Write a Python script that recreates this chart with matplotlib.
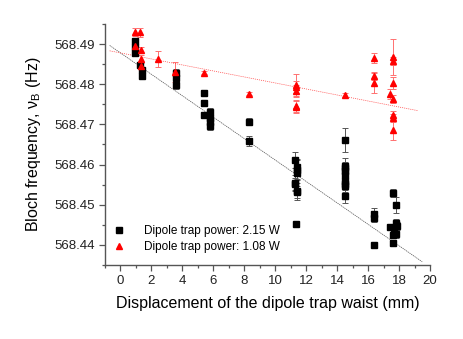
import matplotlib
matplotlib.use("Agg")
import matplotlib.pyplot as plt
from matplotlib.ticker import MultipleLocator, FormatStrFormatter
import numpy as np

plt.rcParams["font.family"] = ["Liberation Sans", "DejaVu Sans"]

# 2.15 W series (black squares)
x_hi = [0.95, 0.95, 0.95, 1.25, 1.4, 1.4, 3.6, 3.6, 3.6, 5.4, 5.4, 5.4,
        5.8, 5.8, 5.8, 5.8, 8.3, 8.3,
        11.3, 11.4, 11.4, 11.4, 11.3, 11.3, 11.4, 11.4, 11.35,
        14.5, 14.5, 14.5, 14.5, 14.5, 14.5, 14.5, 14.5, 14.5,
        16.4, 16.4, 16.4,
        17.6, 17.8, 17.4, 17.8, 17.85, 17.7, 17.6, 17.8, 17.6]
y_hi = [568.4908, 568.4893, 568.4879, 568.4848, 568.4835, 568.4821,
        568.4827, 568.4815, 568.4797, 568.4779, 568.4754, 568.4724,
        568.4732, 568.4716, 568.4706, 568.4695, 568.4707, 568.4659,
        568.4612, 568.4593, 568.4587, 568.4579, 568.4554, 568.4552,
        568.4533, 568.4532, 568.4453,
        568.4662, 568.4597, 568.4592, 568.4585, 568.4573, 568.4558,
        568.4552, 568.4546, 568.4523,
        568.4476, 568.4467, 568.4400,
        568.4530, 568.4500, 568.4445, 568.4455, 568.4448, 568.4438,
        568.4424, 568.4426, 568.4404]
e_hi = [0.0008, 0.0008, 0.0008, 0.0006, 0.0006, 0.0006, 0.0010, 0.0010, 0.0010,
        0.0007, 0.0007, 0.0007, 0.0008, 0.0008, 0.0008, 0.0010, 0.0008, 0.0012,
        0.0020, 0.0020, 0.0025, 0.0015, 0.0020, 0.0015, 0.0020, 0.0015, 0.0004,
        0.0030, 0.0020, 0.0015, 0.0020, 0.0015, 0.0020, 0.0015, 0.0015, 0.0018,
        0.0015, 0.0010, 0.0005,
        0.0010, 0.0020, 0.0008, 0.0010, 0.0010, 0.0010, 0.0008, 0.0010, 0.0006]

# 1.08 W series (red triangles)
x_lo = [0.95, 1.25, 0.95, 1.3, 1.3, 1.35, 2.4, 3.55, 5.4, 8.3,
        11.35, 11.35, 11.35, 11.35, 11.35, 14.5, 16.4, 16.4, 16.4,
        17.6, 17.6, 17.6, 17.4, 17.6, 17.6, 17.6, 17.6]
y_lo = [568.4929, 568.4929, 568.4895, 568.4885, 568.4864, 568.4846,
        568.4862, 568.4831, 568.4829, 568.4776,
        568.4798, 568.4793, 568.4783, 568.4746, 568.4743, 568.4773,
        568.4865, 568.4821, 568.4802,
        568.4867, 568.4859, 568.4802, 568.4776, 568.4763, 568.4724,
        568.4716, 568.4687]
e_lo = [0.0010, 0.0012, 0.0010, 0.0008, 0.0008, 0.0008, 0.0020, 0.0025, 0.0004,
        0.0004, 0.0028, 0.0015, 0.0015, 0.0015, 0.0015, 0.0004, 0.0012, 0.0010,
        0.0025, 0.0045, 0.0010, 0.0015, 0.0012, 0.0010, 0.0010, 0.0010, 0.0025]

# linear fits: intercept at x=0, slope per mm, drawn x-range
fit_hi = (568.4878, -0.002667, (-0.7, 19.5))
fit_lo = (568.4878, -0.000748, (-0.7, 19.25))

labels = ["Dipole trap power: 2.15 W", "Dipole trap power: 1.08 W"]

fig = plt.figure(figsize=(4.63, 3.39), dpi=100)
ax = fig.add_axes([0.2268, 0.2183, 0.7019, 0.7109])

ax.errorbar(x_hi, y_hi, yerr=e_hi, fmt="none", ecolor="#555555",
            elinewidth=0.7, capsize=2, capthick=0.7, zorder=2)
ax.errorbar(x_lo, y_lo, yerr=e_lo, fmt="none", ecolor="#ff7070",
            elinewidth=0.7, capsize=2, capthick=0.7, zorder=2)

for (b, m, (x0, x1)), col, ls in [(fit_hi, "#555555", (0, (2, 1))),
                                  (fit_lo, "#ff4040", (0, (1.5, 1.5)))]:
    xs = np.array([x0, x1])
    ax.plot(xs, b + m * xs, color=col, lw=0.5, ls=ls, zorder=3)

ax.plot(x_hi, y_hi, "s", color="black", ms=4.2, ls="none", zorder=4, label=labels[0])
ax.plot(x_lo, y_lo, "^", color="red", ms=5, ls="none", zorder=4, label=labels[1])

ax.set_xlim(-1, 20)
ax.set_ylim(568.435, 568.495)
ax.xaxis.set_major_locator(MultipleLocator(2))
ax.xaxis.set_minor_locator(MultipleLocator(1))
ax.yaxis.set_major_locator(MultipleLocator(0.01))
ax.yaxis.set_minor_locator(MultipleLocator(0.005))
ax.yaxis.set_major_formatter(FormatStrFormatter("%.2f"))

for s in ["top", "right"]:
    ax.spines[s].set_visible(False)
for s in ["left", "bottom"]:
    ax.spines[s].set_color("#555555")
    ax.spines[s].set_linewidth(1.0)
ax.tick_params(which="major", direction="out", length=4, width=0.9,
               color="#555555", labelsize=9.5, labelcolor="#222222")
ax.tick_params(which="minor", direction="out", length=2.5, width=0.9, color="#555555")

ax.set_xlabel("Displacement of the dipole trap waist (mm)", fontsize=11.5, labelpad=6)
ax.set_ylabel(r"Bloch frequency, ν$_\mathregular{B}$ (Hz)", fontsize=11.5, labelpad=8)

ax.legend(loc="lower left", frameon=False, fontsize=8.5, handlelength=1.0,
          handletextpad=1.6, borderaxespad=0.0, labelspacing=0.35,
          bbox_to_anchor=(0.01, 0.03))

fig.savefig("out.png", dpi=100)
